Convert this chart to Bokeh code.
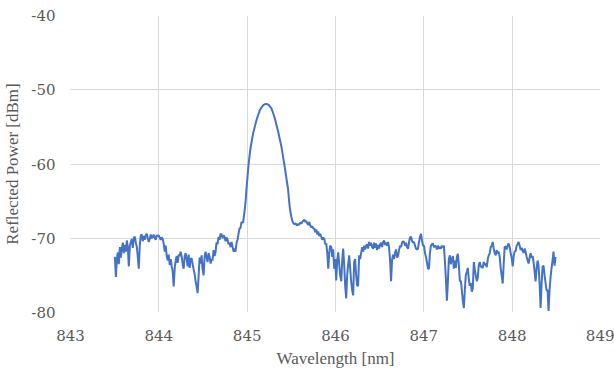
from bokeh.plotting import figure
from bokeh.models import ColumnDataSource, FixedTicker, Range1d, CustomJSTickFormatter
from bokeh.embed import file_html
from bokeh.resources import INLINE

wavelength_nm = [
    843.502, 843.508, 843.514, 843.525, 843.536, 843.547, 843.559, 843.570, 843.581, 843.593,
    843.604, 843.615, 843.627, 843.638, 843.649, 843.660, 843.672, 843.683, 843.694, 843.705,
    843.717, 843.728, 843.740, 843.751, 843.762, 843.773, 843.784, 843.796, 843.807, 843.818,
    843.830, 843.841, 843.852, 843.863, 843.875, 843.886, 843.897, 843.908, 843.920, 843.931,
    843.942, 843.953, 843.965, 843.976, 843.988, 843.999, 844.010, 844.021, 844.033,
    844.044, 844.056, 844.067, 844.078, 844.090, 844.101, 844.112, 844.123, 844.135, 844.146,
    844.157, 844.168, 844.180, 844.191, 844.202, 844.213, 844.225, 844.236, 844.247, 844.259,
    844.270, 844.281, 844.292, 844.304, 844.315, 844.326, 844.338, 844.349, 844.360, 844.371,
    844.383, 844.394, 844.405, 844.416, 844.428, 844.439, 844.450, 844.461, 844.473, 844.484,
    844.495, 844.507, 844.518, 844.529, 844.541, 844.552, 844.563, 844.575, 844.586, 844.597,
    844.608, 844.620, 844.631, 844.642, 844.653, 844.665, 844.676, 844.687, 844.699, 844.710,
    844.721, 844.733, 844.744, 844.755, 844.766, 844.778, 844.789, 844.800, 844.812, 844.823,
    844.834, 844.846, 844.857, 844.868, 844.880, 844.891, 844.902, 844.913, 844.925, 844.936,
    844.945, 844.955, 844.973, 844.983, 844.992, 845.002, 845.011, 845.020, 845.029, 845.039,
    845.049, 845.067, 845.086, 845.105, 845.124, 845.142, 845.161, 845.180, 845.199, 845.218,
    845.237, 845.255, 845.274, 845.293, 845.312, 845.331, 845.350, 845.368, 845.387, 845.405,
    845.424, 845.443, 845.463, 845.472, 845.481, 845.490, 845.500, 845.512, 845.524, 845.537,
    845.550, 845.562, 845.575, 845.588, 845.600, 845.613, 845.625, 845.636, 845.647, 845.658,
    845.670, 845.681, 845.692, 845.703, 845.715, 845.726, 845.737, 845.749, 845.760, 845.771,
    845.782, 845.794, 845.805, 845.816, 845.828, 845.839, 845.850, 845.862, 845.873, 845.884,
    845.895, 845.907, 845.918, 845.929, 845.940, 845.952, 845.963, 845.974, 845.985, 845.997,
    846.008, 846.019, 846.031, 846.042, 846.053, 846.065, 846.076, 846.087, 846.098, 846.110,
    846.121, 846.132, 846.143, 846.155, 846.166, 846.177, 846.189, 846.200, 846.211, 846.222,
    846.234, 846.245, 846.256, 846.268, 846.279, 846.290, 846.302, 846.313, 846.324, 846.336,
    846.347, 846.358, 846.369, 846.380, 846.392, 846.403, 846.414, 846.426, 846.437, 846.448,
    846.459, 846.471, 846.482, 846.494, 846.505, 846.516, 846.527, 846.539, 846.550, 846.561,
    846.572, 846.584, 846.595, 846.606, 846.618, 846.629, 846.640, 846.651, 846.663, 846.674,
    846.685, 846.697, 846.708, 846.719, 846.731, 846.742, 846.753, 846.764, 846.776, 846.787,
    846.798, 846.810, 846.821, 846.832, 846.843, 846.855, 846.866, 846.877, 846.889, 846.900,
    846.911, 846.923, 846.934, 846.945, 846.957, 846.968, 846.979, 846.990, 847.002, 847.013,
    847.024, 847.035, 847.047, 847.058, 847.069, 847.080, 847.092, 847.103, 847.114, 847.126,
    847.137, 847.148, 847.159, 847.171, 847.182, 847.193, 847.205, 847.216, 847.227, 847.238,
    847.250, 847.261, 847.272, 847.283, 847.295, 847.306, 847.317, 847.329, 847.340, 847.351,
    847.362, 847.374, 847.385, 847.396, 847.408, 847.419, 847.430, 847.441, 847.453, 847.464,
    847.475, 847.487, 847.498, 847.509, 847.520, 847.531, 847.543, 847.554, 847.566, 847.577,
    847.588, 847.600, 847.611, 847.622, 847.633, 847.645, 847.656, 847.667, 847.678, 847.690,
    847.701, 847.712, 847.724, 847.735, 847.746, 847.757, 847.769, 847.780, 847.791, 847.802,
    847.814, 847.825, 847.836, 847.847, 847.859, 847.870, 847.881, 847.893, 847.904, 847.915,
    847.927, 847.938, 847.949, 847.960, 847.972, 847.983, 847.994, 848.006, 848.017, 848.028,
    848.040, 848.051, 848.062, 848.073, 848.085, 848.096, 848.107, 848.119, 848.130, 848.141,
    848.152, 848.164, 848.175, 848.186, 848.198, 848.209, 848.220, 848.232, 848.243, 848.254,
    848.265, 848.277, 848.288, 848.299, 848.310, 848.322, 848.333, 848.344, 848.355, 848.367,
    848.378, 848.389, 848.401, 848.412, 848.423, 848.435, 848.446, 848.457, 848.468, 848.480,
    848.491,
]

reflected_power_dbm = [
    -72.5, -73.8, -75.2, -72.8, -71.9, -73.5, -71.2, -72.6, -71.4, -70.6,
    -72.0, -70.9, -71.8, -70.3, -71.2, -73.8, -71.0, -70.5, -70.1, -71.3,
    -69.9, -69.8, -70.6, -71.2, -72.5, -74.1, -71.0, -69.6, -69.5, -70.4,
    -69.7, -70.2, -69.6, -69.4, -70.0, -70.5, -70.1, -69.5, -70.0, -69.8,
    -69.5, -69.9, -70.2, -69.6, -69.7, -69.6, -69.9, -70.2, -69.9,
    -70.1, -70.8, -71.8, -71.0, -72.5, -73.0, -72.2, -73.6, -72.8, -73.8,
    -74.5, -76.5, -74.0, -73.0, -72.4, -73.3, -72.2, -72.4, -71.8, -72.5,
    -73.5, -74.1, -72.5, -72.0, -72.8, -73.8, -72.2, -74.0, -72.8, -72.7,
    -73.5, -74.2, -74.8, -75.8, -76.5, -77.4, -75.2, -72.6, -73.4, -72.3,
    -74.2, -75.0, -72.5, -71.8, -72.6, -73.2, -72.0, -72.5, -73.4, -72.8,
    -73.0, -71.6, -72.4, -71.9, -70.6, -70.8, -69.8, -70.2, -69.4, -69.5,
    -70.0, -69.6, -69.8, -70.4, -69.9, -70.2, -70.8, -70.6, -71.2, -70.5,
    -71.1, -71.8, -71.4, -71.8, -70.6, -70.2, -69.4, -68.7, -68.6, -67.8,
    -67.9, -67.8, -66.1, -64.9, -63.4, -62.0, -60.7, -59.6, -58.7, -57.8,
    -57.1, -55.9, -55.0, -54.1, -53.4, -52.8, -52.4, -52.1, -51.95, -51.9,
    -52.0, -52.2, -52.5, -53.1, -53.8, -54.7, -55.6, -56.6, -57.6, -58.9,
    -60.3, -61.8, -63.4, -64.6, -65.7, -66.5, -67.1, -67.7, -68.0, -68.1,
    -68.0, -68.3, -68.1, -68.2, -67.9, -68.0, -67.8, -67.6, -67.5, -67.8,
    -67.7, -68.0, -68.2, -67.8, -68.3, -68.5, -68.4, -68.7, -68.7, -69.2,
    -68.8, -69.5, -69.1, -69.7, -69.4, -69.8, -70.2, -69.9, -70.1, -70.8,
    -70.7, -72.0, -74.1, -72.0, -71.0, -71.2, -72.5, -71.5, -74.1, -72.8,
    -75.7, -73.0, -71.9, -73.5, -75.0, -75.8, -73.0, -71.4, -73.5, -76.5,
    -78.1, -75.0, -73.6, -72.3, -74.0, -75.8, -77.0, -77.7, -73.2, -72.8,
    -75.0, -76.4, -76.4, -72.3, -72.8, -72.0, -71.2, -71.8, -71.0, -71.5,
    -71.0, -70.8, -71.4, -70.5, -71.0, -70.6, -71.2, -71.4, -70.6, -71.3,
    -70.7, -71.6, -70.9, -71.4, -70.8, -70.6, -71.2, -70.5, -70.3, -70.9,
    -70.6, -71.0, -70.5, -71.2, -73.0, -75.8, -73.0, -72.2, -72.8, -72.0,
    -71.5, -72.6, -72.4, -71.6, -71.0, -71.2, -70.6, -70.4, -70.5, -71.0,
    -70.6, -71.2, -71.4, -70.6, -69.9, -69.8, -70.3, -70.6, -70.5, -71.0,
    -71.4, -71.5, -71.4, -70.5, -69.8, -69.4, -70.3, -71.0, -71.0, -72.0,
    -72.5, -73.2, -74.1, -74.1, -72.0, -71.0, -70.8, -70.7, -71.2, -71.0,
    -71.1, -71.5, -71.0, -71.4, -71.2, -71.4, -71.0, -71.2, -71.0, -73.0,
    -75.5, -78.4, -76.0, -72.8, -72.3, -73.5, -72.8, -72.4, -74.1, -73.0,
    -74.0, -72.5, -72.1, -73.5, -75.8, -75.7, -77.0, -78.4, -79.4, -77.0,
    -75.0, -74.5, -74.0, -75.5, -76.4, -76.0, -77.2, -76.8, -73.2, -74.2,
    -75.0, -75.8, -75.3, -73.6, -73.2, -73.8, -73.9, -74.0, -73.2, -73.6,
    -73.4, -73.9, -72.8, -72.3, -72.0, -71.2, -71.0, -70.5, -71.4, -72.0,
    -72.3, -71.6, -72.0, -71.8, -72.5, -74.0, -75.0, -76.1, -73.5, -71.2,
    -71.1, -71.5, -71.0, -70.7, -71.2, -72.0, -72.6, -73.8, -72.4, -71.8,
    -71.7, -71.0, -70.8, -70.5, -71.0, -71.6, -71.3, -71.7, -72.0, -71.4,
    -71.8, -72.5, -73.0, -73.4, -72.6, -72.0, -72.6, -72.4, -73.3, -74.5,
    -75.8, -74.0, -73.0, -73.7, -76.0, -79.4, -76.2, -73.8, -73.7, -75.0,
    -76.0, -77.0, -77.0, -79.8, -77.0, -75.2, -74.0, -73.0, -71.8, -73.7,
    -72.5,
]

x_ticks = [843, 844, 845, 846, 847, 848, 849]
y_ticks = [-80, -70, -60, -50, -40]
x_label = "Wavelength [nm]"
y_label = "Reflected Power [dBm]"

source = ColumnDataSource(data=dict(x=wavelength_nm, y=reflected_power_dbm))

p = figure(width=614, height=370, output_backend="svg", toolbar_location=None,
           x_range=Range1d(843, 849), y_range=Range1d(-80, -40))
p.min_border_left = 68
p.min_border_right = 14
p.min_border_top = 15
p.min_border_bottom = 56
p.outline_line_color = None
p.background_fill_color = "white"
p.border_fill_color = "white"

p.line("x", "y", source=source, line_color="#4472C4", line_width=2)

label_font = "Liberation Serif"
tick_font = "DejaVu Serif"
grey = "#595959"
fmt = CustomJSTickFormatter(code="return String(Math.round(tick));")
for ax in (p.xaxis[0], p.yaxis[0]):
    ax.formatter = fmt
    ax.axis_line_color = None
    ax.major_tick_line_color = None
    ax.minor_tick_line_color = None
    ax.major_tick_out = 0
    ax.major_tick_in = 0
    ax.minor_tick_out = 0
    ax.minor_tick_in = 0
    ax.major_label_text_font = tick_font
    ax.major_label_text_font_size = "15px"
    ax.major_label_text_color = grey
    ax.axis_label_text_font = label_font
    ax.axis_label_text_font_size = "17px"
    ax.axis_label_text_color = grey
    ax.axis_label_text_font_style = "normal"

p.xaxis.ticker = FixedTicker(ticks=x_ticks)
p.yaxis.ticker = FixedTicker(ticks=y_ticks)
p.xaxis.axis_label = x_label
p.yaxis.axis_label = y_label
p.xaxis.major_label_standoff = 17
p.yaxis.major_label_standoff = 15
p.xaxis.axis_label_standoff = 5
p.yaxis.axis_label_standoff = 6

p.xgrid.ticker = FixedTicker(ticks=x_ticks)
p.ygrid.ticker = FixedTicker(ticks=y_ticks)
p.xgrid.grid_line_color = "#D9D9D9"
p.ygrid.grid_line_color = "#D9D9D9"
p.xgrid.grid_line_width = 1
p.ygrid.grid_line_width = 1

open("out.html", "w").write(file_html(p, INLINE))
